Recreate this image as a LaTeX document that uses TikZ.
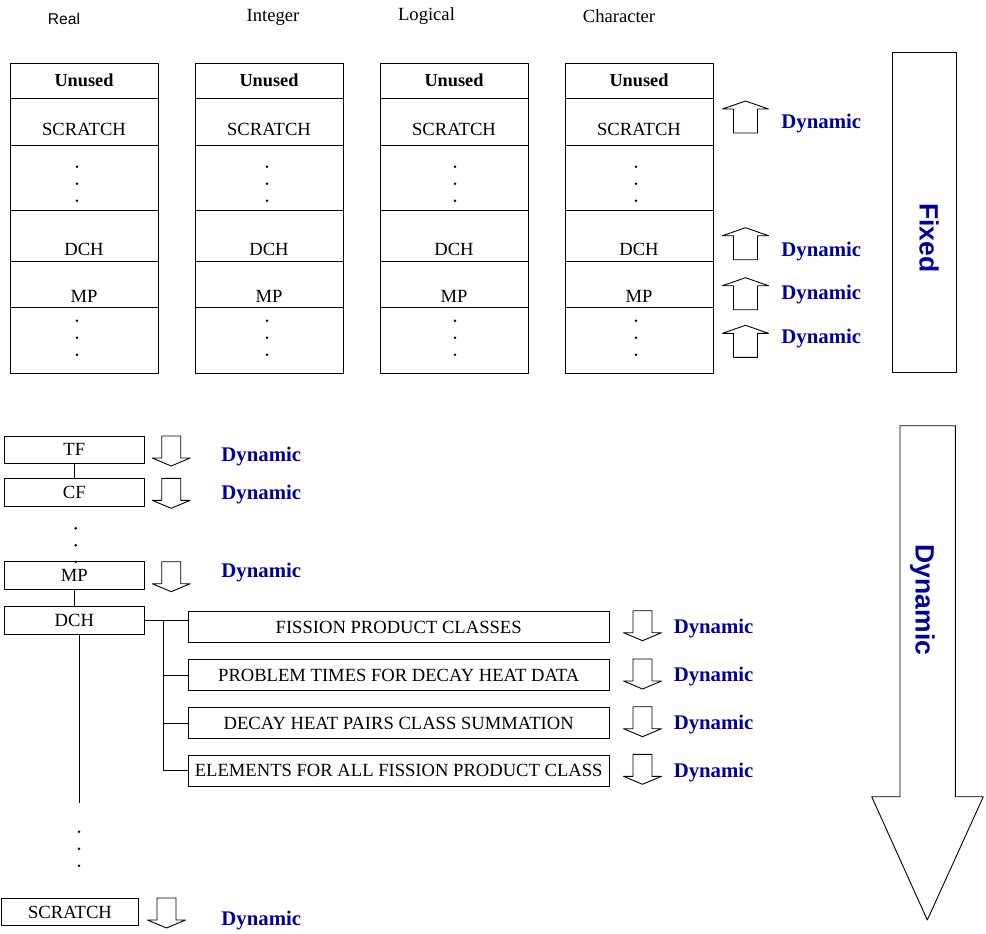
\documentclass[tikz,border=0pt]{standalone}
\usepackage{fontspec}
\setmainfont{Liberation Serif}
\setsansfont{Liberation Sans}
\usepackage{tikz}
\usetikzlibrary{calc}
\definecolor{qqqqaq}{rgb}{0.,0.,0.6274509803921569}
\tikzstyle{every node}=[font=\fontsize{18.6}{20}\selectfont,inner sep=0pt]
\tikzstyle{cell}=[draw,minimum width=148]
\tikzstyle{blk}=[draw,minimum width=140,minimum height=27.5]
\tikzstyle{wide}=[draw,minimum width=420.7,minimum height=31]
\tikzstyle{unused}=[font=\bfseries\fontsize{18.3}{20}\selectfont]
\tikzstyle{dyn}=[anchor=west,yshift=-2.5pt,color=qqqqaq,font=\bfseries\fontsize{20.8}{22}\selectfont]
\tikzstyle{bigtxt}=[rotate=-90,color=qqqqaq,font=\sffamily\bfseries\fontsize{26.5}{28}\selectfont]
\tikzset{
  uparr/.pic={\draw (0,0) -- (23,8) -- (12,8) -- (12,32) -- (-12,32) -- (-12,8) -- (-23,8) -- cycle;},
  downarr/.pic={\draw (-9.5,0) -- (9.5,0) -- (9.5,22) -- (19,22) -- (0,30) -- (-19,22) -- (-9.5,22) -- cycle;}
}
\begin{document}
\begin{tikzpicture}[line cap=round,line join=round,x=1pt,y=-1pt,line width=0.9pt]
        \useasboundingbox (0,0) rectangle (986,934);
        % column headers
        \node[font=\sffamily\fontsize{15.6}{18}\selectfont] (hreal) at (64,19) {Real};
        \node (hint) at (273,17) {Integer};
        \node (hlog) at (426.5,16.5) {Logical};
        \node (hchar) at (619,16.5) {Character};
        % fixed part, one column per type
        \foreach \c/\xc/\xd in {1/84/77,2/269/267,3/454/455,4/639/636}{
            \node[cell,minimum height=35,unused] (u\c) at (\xc,80.5) {Unused};
            \node[cell,minimum height=47] (s\c) at (\xc,121.5) {};
            \node[cell,minimum height=65] (d\c) at (\xc,177.5) {};
            \node[cell,minimum height=51] (h\c) at (\xc,235.5) {};
            \node[cell,minimum height=46] (m\c) at (\xc,284) {};
            \node[cell,minimum height=66] (e\c) at (\xc,340) {};
            \node (sl\c) at (\xc,129.5) {SCRATCH};
            \node (hl\c) at (\xc,249.5) {DCH};
            \node (ml\c) at (\xc,296) {MP};
            \foreach \dy in {166.7,183.7,200.7,320.7,337.7,354.7}
                \fill (\xd,\dy) circle (1.4pt);
        }
        \foreach \ty/\ly [count=\i] in {101/121,227.7/249,277.7/292,325.3/335.7}{
            \pic at (745.5,\ty) {uparr};
            \node[dyn] (dup\i) at (781,\ly) {Dynamic};
        }
        \node[draw,minimum width=64,minimum height=320] (fixbox) at (924.7,212.7) {};
        \node[bigtxt] (fixtxt) at (929,237.7) {Fixed};
        % dynamic part
        \node[blk] (tf) at (74.3,449.7) {TF};
        \node[blk] (cf) at (74.3,492.5) {CF};
        \node[blk] (mp) at (74.3,575.3) {MP};
        \node[blk] (dch) at (74.3,620.3) {DCH};
        \node[draw,minimum width=137,minimum height=27.5] (scr) at (70,912) {SCRATCH};
        \draw (tf.south) -- (cf.north);
        \draw (mp.south) -- (dch.north);
        \foreach \dy in {528.3,545.3,562}
            \fill (75.7,\dy) circle (1.4pt);
        \coordinate (dchend) at (79,802.7);
        \draw (dch.south -| dchend) -- (dchend);
        \foreach \dy in {831.7,848.7,865.7}
            \fill (79,\dy) circle (1.4pt);
        \foreach \ax/\ay/\ly [count=\i] in {171.2/436/454.3,171.2/478.3/491.7,171.2/561.7/570,166.5/898/917.7}{
            \pic at (\ax,\ay) {downarr};
            \node[dyn] (dlo\i) at (221,\ly) {Dynamic};
        }
        \node[wide] (fp) at (398.7,627.2) {FISSION PRODUCT CLASSES};
        \node[wide] (pt) at (398.7,675) {PROBLEM TIMES FOR DECAY HEAT DATA};
        \node[wide] (dh) at (398.7,723) {DECAY HEAT PAIRS CLASS SUMMATION};
        \node[wide] (el) at (398.7,770.8) {ELEMENTS FOR ALL FISSION PRODUCT CLASS};
        \coordinate (br) at (163.3,620.3);
        \draw (dch.east) -- (dch.east -| fp.west);
        \draw (br) |- (pt.west);
        \draw (br) |- (dh.west);
        \draw (br) |- (el.west);
        \foreach \ay/\ly [count=\i] in {610.7/626,659/674,706.7/722,754.3/770}{
            \pic at (642.5,\ay) {downarr};
            \node[dyn] (dri\i) at (673.3,\ly) {Dynamic};
        }
        \draw (900,425.7) -- (955.3,425.7) -- (955.3,796.7) -- (983.3,796.7) -- (927.3,920) -- (871.7,796.7) -- (900,796.7) -- cycle;
        \node[bigtxt] (dyntxt) at (922.5,600) {Dynamic};
\end{tikzpicture}
\end{document}
